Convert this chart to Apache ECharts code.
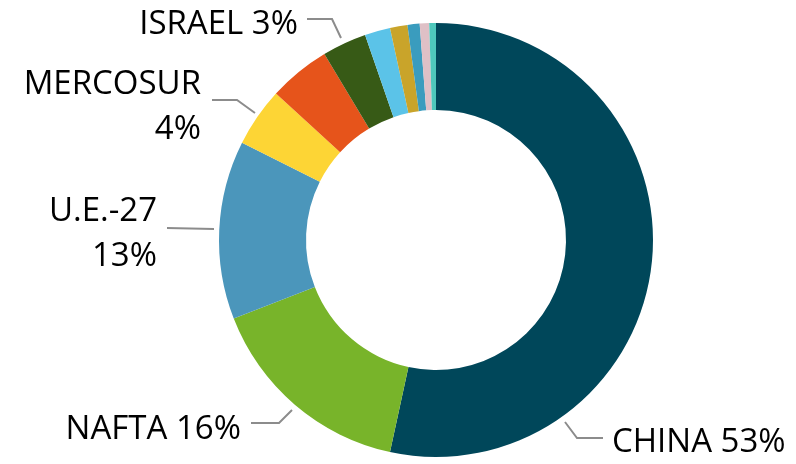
<!DOCTYPE html>
<html>
<head>
<meta charset="utf-8">
<script src="https://cdn.jsdelivr.net/npm/echarts@6/dist/echarts.min.js"></script>
<style>
  html, body { margin: 0; padding: 0; background: #fff; }
  #chart { width: 796px; height: 464px; }
</style>
</head>
<body>
<div id="chart"></div>
<script>
// share of each bloc, in percent, clockwise from the top
var names = ['CHINA', 'NAFTA', 'U.E.-27', 'MERCOSUR', 'OTROS A', 'ISRAEL', 'OTROS B', 'OTROS C', 'OTROS D', 'OTROS E', 'OTROS F'];
var shares = [53.4, 15.7, 13.3, 4.4, 4.6, 3.3, 1.9, 1.3, 0.9, 0.7, 0.5];
var colors = ['#00475a', '#78b42a', '#4b96bb', '#fdd535', '#e6541b', '#375a16', '#5bc3e8', '#c9a42a', '#3a9cbe', '#dfc0c6', '#4ec8bc'];
var labelled = ['CHINA', 'NAFTA', 'U.E.-27', 'MERCOSUR', 'ISRAEL'];

// where the hand placed labels sit, and their leader lines
var labelSpot = {
  'CHINA':    { x: 612, y: 443, align: 'left',  line: [[565, 422], [577, 438], [603, 438]] },
  'NAFTA':    { x: 241, y: 430, align: 'right', line: [[292, 410], [279, 423], [251, 423]] },
  'U.E.-27':  { x: 157, y: 234, align: 'right', line: [[214, 229], [167, 228]] },
  'MERCOSUR': { x: 201, y: 107, align: 'right', line: [[255, 113], [237, 100], [212, 100]] },
  'ISRAEL':   { x: 298, y: 25,  align: 'right', line: [[341, 38], [332, 19], [307, 19]] }
};

var chart = echarts.init(document.getElementById('chart'), null, { renderer: 'canvas' });

var pieData = names.map(function (n, i) {
  var show = labelled.indexOf(n) >= 0;
  return {
    name: n,
    value: shares[i],
    itemStyle: { color: colors[i] },
    label: { show: show },
    labelLine: { show: show }
  };
});

function labelText(p) {
  var pct = Math.round(p.value) + '%';
  if (p.name === 'MERCOSUR' || p.name === 'U.E.-27') {
    return p.name + '\n' + pct;
  }
  return p.name + ' ' + pct;
}

chart.setOption({
  animation: false,
  series: [{
    type: 'pie',
    center: [436, 240],
    radius: [130, 217],
    startAngle: 90,
    clockwise: true,
    avoidLabelOverlap: false,
    emphasis: { disabled: true },
    label: {
      position: 'outside',
      color: '#000',
      fontFamily: 'Open Sans',
      fontSize: 33,
      lineHeight: 45,
      formatter: labelText
    },
    labelLine: {
      lineStyle: { color: '#8c8c8c', width: 2 }
    },
    labelLayout: function (params) {
      var name = names[params.dataIndex];
      var s = labelSpot[name];
      if (!s) return {};
      return {
        x: s.x,
        y: s.y,
        align: s.align,
        verticalAlign: 'middle',
        labelLinePoints: s.line
      };
    },
    data: pieData
  }]
});

window.addEventListener('resize', chart.resize);
</script>
</body>
</html>
